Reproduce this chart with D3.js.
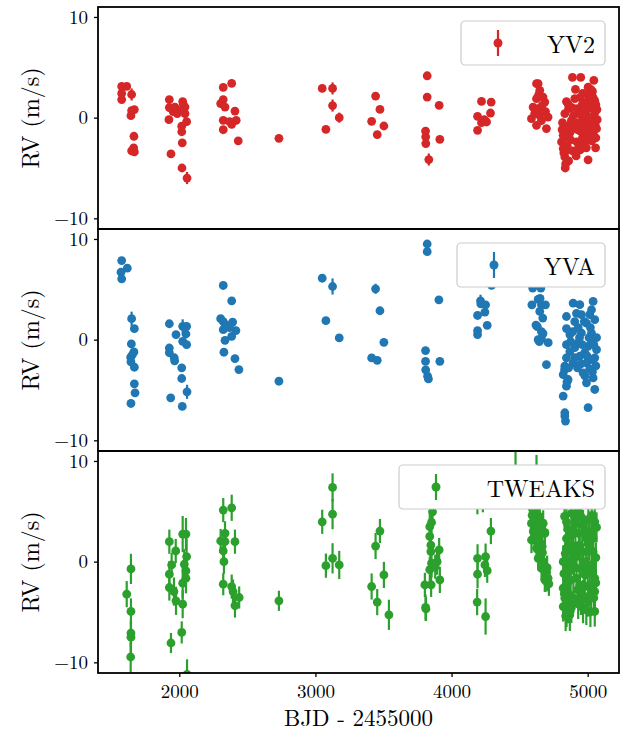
<!DOCTYPE html>
<html>
<head>
<meta charset="utf-8">
<script src="https://cdn.jsdelivr.net/npm/d3@7/dist/d3.min.js"></script>
<style>
  html, body { margin: 0; padding: 0; background: #fff; }
  svg { display: block; }
  text { font-family: "Latin Modern Roman", "CMU Serif", "Liberation Serif", "DejaVu Serif", serif; fill: #000; }
</style>
</head>
<body>
<svg id="chart" width="629" height="733"></svg>
<script>
// ---------------- data: [BJD-2455000, RV (m/s), error (m/s)] ----------------
const instruments = ["YV2", "YVA", "TWEAKS"];
const colors = ["#d62728", "#1f77b4", "#2ca02c"];
const xTicks = [2000, 3000, 4000, 5000];
const yTicks = [-10, 0, 10];

const yv2 = [
  [1577,3.1,.3],[1614,3.1,.3],[1577,2.4,.3],[1577,1.8,.3],[1650,2.3,.6],[1650,0.7,.3],[1670,0.8,.3],[1645,0.2,.3],
  [1667,-1.85,.3],[1650,-3.3,.3],[1670,-3.4,.3],[1665,-3.0,.3],
  [1927,1.8,.3],[1927,1.0,.3],[1924,-0.2,.3],[1968,1.05,.3],[1985,0.4,.3],[2025,1.6,.3],[2042,1.05,.3],[2042,0.4,.3],
  [2054,-0.4,.3],[2018,-0.85,.3],[2018,-1.4,.3],[2022,-2.5,.3],[1939,-3.6,.3],[2020,-5.0,.3],[2057,-6.0,.6],[2000,0.7,.3],
  [1955,0.6,.3],[2030,1.3,.3],
  [2323,3.0,.3],[2385,3.4,.3],[2323,1.8,.3],[2304,1.4,.3],[2336,1.05,.3],[2409,0.65,.3],[2323,-0.27,.3],[2385,-0.66,.3],
  [2418,-0.27,.3],[2323,-1.2,.3],[2433,-2.3,.3],[2370,-0.4,.3],
  [2732,-2.05,.3],
  [3050,2.9,.3],[3126,2.9,.6],[3126,1.2,.6],[3175,0.0,.5],[3077,-1.16,.3],
  [3442,2.14,.4],[3474,0.82,.3],[3413,-0.37,.3],[3503,-0.83,.3],[3454,-1.68,.3],
  [3821,4.16,.3],[3821,2.04,.3],[3909,1.22,.3],[3809,-1.33,.3],[3810,-1.9,.3],[3811,-2.57,.3],[3833,-4.16,.6],[3914,-2.15,.3],
  [4220,1.61,.3],[4291,1.55,.3],[4286,0.46,.3],[4191,0.13,.3],[4257,-0.43,.3],[4220,-0.5,.3],[4191,-1.26,.3],[4240,-0.2,.3],
  [4624,3.37,.3],[4636,3.37,.3],[4648,2.7,.3],[4672,2.04,.3],[4624,1.88,.3],[4685,1.55,.3],[4599,1.05,.3],[4636,0.89,.3],
  [4648,0.23,.3],[4709,0.06,.3],[4587,-0.1,.3],[4624,-0.76,.3],[4697,-1.09,.3],[4611,0.4,.3],[4660,-0.3,.3],[4665,1.2,.3],
  [4640,2.3,.3],[4690,0.6,.3],
  [4888,4.0,.3],[4844,1.6,.3],[4905,1.88,.3],[4832,0.4,.3],[4844,-0.93,.3],[4820,-1.75,.3],[4808,-2.41,.3],[4820,-3.07,.3],
  [4832,-3.9,.3],[4835,-5.0,.3],[4860,-4.3,.3],[4850,-2.8,.3],[4870,-1.5,.3],[4880,-0.3,.3],[4860,0.9,.3],[4895,0.2,.3],
  [4815,-0.5,.3],[4825,-3.5,.3],[4838,-4.6,.3],[4858,1.3,.3],[4875,-2.2,.3],[4890,-3.3,.3],[4900,-1.0,.3],
  [4949,4.0,.3],[5045,3.7,.3],[5003,3.03,.3],[4991,1.55,.3],[5052,1.7,.3],[4960,1.3,.3],[5030,1.2,.3],[5060,1.3,.3],
  [4940,0.4,.3],[4985,0.4,.3],[5050,0.4,.3],[4930,-0.5,.3],[4975,-0.3,.3],[5020,-0.6,.3],[5055,-0.7,.3],[4950,-1.4,.3],
  [4995,-1.3,.3],[5040,-1.6,.3],[4920,-2.4,.3],[4980,-2.4,.3],[5030,-2.3,.3],[5060,-2.0,.3],[4945,-3.2,.3],[5003,-4.19,.3],
  [4990,-3.0,.3],[5010,-1.9,.3],[5070,-0.2,.3],[5005,2.2,.3],[4965,2.4,.3],[5035,2.6,.3],[4955,-0.9,.3],[5015,0.0,.3],
  [4925,0.9,.3],[5065,-1.1,.3],[4935,-2.9,.3],[4970,1.0,.3],[5040,2.0,.3],[5000,0.9,.3],
  [4812,-1.2,.3],[4828,-2.0,.3],[4842,-3.3,.3],[4855,-1.8,.3],[4868,-0.8,.3],[4885,1.0,.3],[4910,2.8,.3],[4925,-1.2,.3],
  [4945,2.0,.3],[4958,0.2,.3],[4972,-1.8,.3],[4990,-0.6,.3],[5012,1.0,.3],[5025,-1.0,.3],[5048,-0.2,.3],[5068,0.8,.3],
  [5058,-3.0,.3],[4915,-3.8,.3],[4962,-2.0,.3],[5022,2.8,.3]
];

const yva = [
  [1577,7.85,.3],[1618,7.1,.3],[1572,6.7,.3],[1577,6.04,.3],[1650,2.08,.7],[1670,1.09,.3],[1648,-0.43,.3],[1667,-1.22,.3],
  [1643,-1.75,.3],[1645,-2.2,.3],[1670,-2.74,.3],[1670,-4.39,.3],[1675,-5.28,.3],[1645,-6.34,.3],[1655,-1.5,.3],
  [1927,1.58,.3],[1976,0.5,.3],[2025,1.32,.7],[2054,1.32,.3],[2049,0.56,.3],[2025,-0.17,.3],[2054,-0.5,.3],[1927,-0.83,.3],
  [1927,-1.3,.3],[1963,-1.8,.3],[1966,-2.1,.3],[2018,-2.8,.3],[2018,-3.86,.3],[2057,-5.18,.7],[1937,-5.78,.3],[2022,-6.63,.3],
  [2323,5.38,.3],[2385,3.86,.3],[2304,2.08,.3],[2323,1.8,.3],[2392,1.75,.3],[2323,0.99,.3],[2416,0.9,.3],[2385,0.33,.3],
  [2336,-0.07,.3],[2328,-1.25,.3],[2409,-1.88,.3],[2438,-2.97,.3],[2340,1.5,.3],[2370,1.2,.3],
  [2732,-4.13,.3],
  [3050,6.1,.3],[3126,5.28,.8],[3077,1.88,.3],[3175,0.17,.3],
  [3442,5.05,.5],[3474,2.87,.3],[3503,-0.27,.3],[3413,-1.82,.3],[3454,-2.05,.3],
  [3821,9.5,.3],[3821,8.74,.3],[3907,3.96,.3],[3809,-1.09,.3],[3809,-2.15,.3],[3810,-3.0,.3],[3824,-3.63,.3],[3830,-3.9,.3],
  [3914,-2.15,.3],
  [4294,5.4,.3],[4213,3.86,.6],[4215,3.56,.3],[4250,3.46,.3],[4245,2.74,.3],[4191,2.4,.3],[4191,0.89,.3],[4191,0.5,.3],
  [4262,1.42,.3],
  [4596,5.12,.3],[4656,5.12,.3],[4650,4.1,.3],[4636,4.0,.3],[4590,3.46,.3],[4660,3.46,.3],[4690,3.46,.3],[4648,2.8,.3],
  [4670,2.14,.3],[4620,1.45,.3],[4630,1.3,.3],[4660,0.8,.3],[4672,0.6,.3],[4636,0.0,.3],[4660,0.1,.3],[4710,-0.3,.3],
  [4697,-2.48,.3],[4645,-0.2,.3],
  [4893,3.63,.3],[4942,3.47,.3],[5040,3.8,.3],[5028,2.97,.3],[4844,2.3,.3],[4954,2.48,.3],[5015,2.48,.3],[4905,1.8,.3],
  [4991,1.65,.3],[5052,1.98,.3],[4869,0.5,.3],[4954,0.66,.3],[5028,0.66,.3],[4844,-0.5,.3],[4930,-0.33,.3],[5003,-0.66,.3],
  [5065,-0.99,.3],[4844,-1.81,.3],[4942,-1.65,.3],[5028,-1.98,.3],[4832,-2.64,.3],[4991,-2.31,.3],[5052,-1.81,.3],
  [4820,-3.47,.3],[4856,-3.96,.3],[4966,-3.3,.3],[5040,-3.8,.3],[4844,-4.62,.3],[4991,-4.29,.3],[5052,-4.95,.3],
  [4820,-5.6,.3],[5003,-6.76,.3],[4832,-7.26,.3],[4832,-7.59,.3],[4837,-8.09,.3],
  [4905,-0.8,.3],[4978,-1.3,.3],[4930,1.2,.3],[5028,-0.2,.3],[4893,-2.3,.3],[5015,-2.9,.3],[4869,-1.2,.3],[5065,0.2,.3],
  [4918,2.6,.3],[4844,1.1,.3],
  [4830,-3.0,.3],[4848,-4.2,.3],[4860,-2.8,.3],[4875,-0.2,.3],[4890,0.8,.3],[4905,-1.8,.3],[4925,-2.8,.3],[4940,0.2,.3],
  [4960,-0.5,.3],[4975,1.8,.3],[4995,-1.6,.3],[5010,0.2,.3],[5020,1.2,.3],[5045,-0.5,.3],[5060,-2.6,.3],[5035,-3.2,.3],
  [4980,-3.6,.3],[4950,-2.4,.3]
];

const tweaks = [
  [1614,-3.23,1.3],[1645,-0.72,1.5],[1645,-4.95,1.3],[1645,-7.09,1.3],[1645,-7.5,1.5],[1643,-9.47,1.5],
  [1927,1.98,1.2],[1974,1.06,1.2],[2025,2.74,1.8],[2049,2.74,1.6],[2054,0.5,1.8],[2037,-0.26,1.5],[2049,-0.92,1.5],
  [2049,-1.65,1.5],[1927,-1.25,1.3],[1944,-0.33,1.2],[1927,-2.57,1.3],[1961,-2.97,1.4],[1976,-3.89,1.4],[2025,-2.14,1.5],
  [2025,-4.22,1.4],[2018,-7.03,1.1],[1939,-8.08,1.0],[2057,-11.2,1.5],
  [2323,5.12,1.2],[2385,5.35,1.3],[2336,2.81,1.2],[2304,2.05,1.2],[2336,2.0,1.2],[2409,1.98,1.2],[2323,1.06,1.2],
  [2328,0.0,1.2],[2323,-2.24,1.1],[2385,-2.48,1.2],[2395,-2.97,1.2],[2440,-3.56,1.1],[2409,-4.36,1.2],
  [2732,-3.89,1.0],
  [3050,3.96,1.2],[3126,7.37,1.4],[3126,4.72,1.5],[3126,0.33,1.5],[3077,-0.4,1.2],[3175,-0.33,1.4],
  [3474,3.04,1.2],[3442,1.55,1.3],[3503,-1.32,1.3],[3413,-2.47,1.3],[3454,-4.02,1.3],[3540,-5.28,1.5],
  [3860,4.95,1.2],[3853,3.9,1.5],[3840,3.47,1.3],[3840,2.5,1.3],[3848,1.65,1.4],[3848,1.0,1.3],[3853,-0.16,1.4],
  [3840,-0.8,1.3],[3909,1.16,1.2],[3894,0.0,1.3],[3914,-1.82,1.3],[3850,-2.3,1.2],[3804,-2.31,1.2],[3809,-4.55,1.3],
  [3812,-4.7,1.2],[3880,-0.5,1.2],[3860,6.0,1.3],
  [4289,3.04,1.3],[4191,0.33,1.4],[4250,0.5,1.3],[4245,-0.33,1.2],[4262,-0.9,1.2],[4191,-1.25,1.4],[4188,-4.02,1.3],
  [4250,-5.45,1.8],[4190,6.3,1.6],[4230,6.5,1.6],
  [4470,8.5,2.5],[4624,8.6,2.0],[4600,6.8,1.5],[4580,5.8,1.5],[4587,3.8,1.4],[4636,4.3,1.4],[4673,3.8,1.3],[4624,4.8,1.4],
  [4648,4.46,1.3],[4661,3.3,1.3],[4685,2.9,1.3],[4587,2.15,1.3],[4685,2.8,1.2],[4624,1.33,1.2],[4648,1.0,1.2],
  [4636,0.33,1.2],[4673,0.0,1.2],[4661,-0.66,1.2],[4697,-0.99,1.2],[4709,-1.65,1.2],[4685,-1.81,1.2],[4697,-1.15,1.2],
  [4705,-1.65,1.2],[4697,-1.98,1.0],[4600,3.0,1.3],[4612,2.2,1.3],[4655,1.8,1.2],[4668,0.9,1.2],[4680,-0.4,1.2],
  [4610,5.5,1.5],
  [4592,4.6,1.4],[4618,3.5,1.3],[4630,2.6,1.3],[4642,2.0,1.3],[4654,0.5,1.2],[4666,1.5,1.2],[4678,-0.2,1.2],
  [4690,-1.4,1.2],[4702,-0.6,1.2],[4715,-2.2,1.2],[4605,4.0,1.4],[4595,5.2,1.4],
  [4844,2.3,1.5],[4844,1.33,1.5],[4820,0.0,1.6],[4856,-0.99,1.5],[4820,-2.64,1.6],[4820,-4.46,1.5],[4869,-5.28,1.6],
  [4918,4.3,1.5],[4966,3.63,1.5],[4942,1.65,1.5],[5015,2.97,1.5],[5052,3.96,1.5],[4966,0.0,1.5],[5040,0.99,1.5],
  [5052,-1.65,1.5],[5052,-2.97,1.5],[5052,-4.95,1.5],[5003,-3.96,1.5],[4942,-2.31,1.5],[4869,-3.3,1.5],[4979,-1.32,1.5],
  [4869,0.0,1.5],[4893,2.97,1.5],[4991,2.3,1.5],[5028,-0.3,1.5],[4918,-1.65,1.5],[4966,-3.3,1.5],[4844,3.96,1.5],
  [5015,-2.3,1.5],[4942,-0.66,1.5],[4832,-3.63,1.5],[4844,-1.65,1.5],[4991,0.99,1.5],[4881,1.65,1.5],[5040,2.3,1.5],
  [4856,-4.62,1.5],[4966,-4.62,1.5],[4918,0.5,1.5],
  [4830,4.5,1.5],[4855,3.2,1.5],[4880,4.8,1.5],[4905,3.8,1.5],[4930,4.9,1.5],[4955,4.4,1.5],[4980,3.0,1.5],[5005,4.2,1.5],
  [5030,4.6,1.5],[5065,3.4,1.5],[4835,0.8,1.5],[4860,2.5,1.5],[4885,0.2,1.5],[4910,1.2,1.5],[4935,2.8,1.5],[4960,1.0,1.5],
  [4985,-0.2,1.5],[5010,1.6,1.5],[5035,-0.8,1.5],[5060,0.4,1.5],[4825,-1.2,1.5],[4850,-2.2,1.5],[4875,-1.8,1.5],
  [4900,-0.6,1.5],[4925,-2.8,1.5],[4950,-3.8,1.5],[4975,-2.5,1.5],[5000,-1.0,1.5],[5025,-3.4,1.5],[5060,-2.1,1.5],
  [4828,-3.2,1.5],[4845,-5.0,1.5],[4862,-4.0,1.5],[4895,-3.6,1.5],[4930,-4.2,1.5],[4990,-4.8,1.5],[5020,-5.0,1.5],
  [5045,-3.6,1.5],[4838,-5.4,1.5],[4880,-4.6,1.5]
];

const seriesData = [yv2, yva, tweaks];

// ---------------- layout ----------------
const svg = d3.select("#chart");
const left = 98, right = 619;
const panelTops = [7, 229, 451];
const panelH = 222;
const xDomain = [1403, 5230];
const yDomain = [-11.06, 10.99];

const x = d3.scaleLinear().domain(xDomain).range([left, right]);
const fmt = d => d < 0 ? "\u2212" + Math.abs(d) : String(d);

const defs = svg.append("defs");

seriesData.forEach((data, i) => {
  const top = panelTops[i], bottom = top + panelH;
  const y = d3.scaleLinear().domain(yDomain).range([bottom, top]);
  const color = colors[i];

  defs.append("clipPath").attr("id", "clip" + i)
    .append("rect").attr("x", left).attr("y", top).attr("width", right - left).attr("height", panelH);

  const g = svg.append("g").attr("clip-path", `url(#clip${i})`);

  g.selectAll("line.err").data(data).join("line")
    .attr("class", "err")
    .attr("x1", d => x(d[0])).attr("x2", d => x(d[0]))
    .attr("y1", d => y(d[1] - d[2])).attr("y2", d => y(d[1] + d[2]))
    .attr("stroke", color).attr("stroke-width", 2.2);

  g.selectAll("circle.pt").data(data).join("circle")
    .attr("class", "pt")
    .attr("cx", d => x(d[0])).attr("cy", d => y(d[1]))
    .attr("r", 4.4).attr("fill", color);

  // y axis
  const ya = svg.append("g").attr("transform", `translate(${left},0)`)
    .call(d3.axisLeft(y).tickValues(yTicks).tickSize(4).tickPadding(6).tickFormat(fmt));
  ya.select(".domain").remove();
  ya.selectAll(".tick line").attr("stroke", "#000").attr("stroke-width", 1.3);
  ya.selectAll(".tick text").attr("font-size", 19).attr("font-family", null).attr("fill", "#000");

  // y label
  svg.append("text")
    .attr("transform", `translate(29,${top + panelH / 2}) rotate(-90)`)
    .attr("text-anchor", "middle").attr("dominant-baseline", "central")
    .attr("font-size", 24).text("RV (m/s)");

  // legend
  const lw = i === 2 ? 206 : (i === 1 ? 148 : 144);
  const lx = right - 14 - lw, ly = top + 14, lh = 44;
  const lg = svg.append("g");
  lg.append("rect").attr("x", lx).attr("y", ly).attr("width", lw).attr("height", lh)
    .attr("rx", 4).attr("fill", "#fff")
    .attr("stroke", "#cccccc").attr("stroke-width", 1.2);
  const mx = lx + 37, my = ly + lh / 2;
  lg.append("line").attr("x1", mx).attr("x2", mx).attr("y1", my - 13).attr("y2", my + 13)
    .attr("stroke", color).attr("stroke-width", 2.2);
  lg.append("circle").attr("cx", mx).attr("cy", my).attr("r", 4.5).attr("fill", color);
  lg.append("text").attr("x", lx + lw - 10).attr("y", my).attr("text-anchor", "end")
    .attr("dominant-baseline", "central").attr("font-size", 24).attr("fill", "#111")
    .text(instruments[i]);

  // frame
  svg.append("rect").attr("x", left).attr("y", top).attr("width", right - left).attr("height", panelH)
    .attr("fill", "none").attr("stroke", "#000").attr("stroke-width", 1.8);
});

// x axis on bottom panel
const xBottom = panelTops[2] + panelH;
const xa = svg.append("g").attr("transform", `translate(0,${xBottom})`)
  .call(d3.axisBottom(x).tickValues(xTicks).tickSize(4).tickPadding(8).tickFormat(d3.format("d")));
xa.select(".domain").remove();
xa.selectAll(".tick line").attr("stroke", "#000").attr("stroke-width", 1.3);
xa.selectAll(".tick text").attr("font-size", 19).attr("font-family", null).attr("fill", "#000");

svg.append("text").attr("x", (left + right) / 2).attr("y", 726)
  .attr("text-anchor", "middle").attr("font-size", 23).text("BJD - 2455000");
</script>
</body>
</html>
